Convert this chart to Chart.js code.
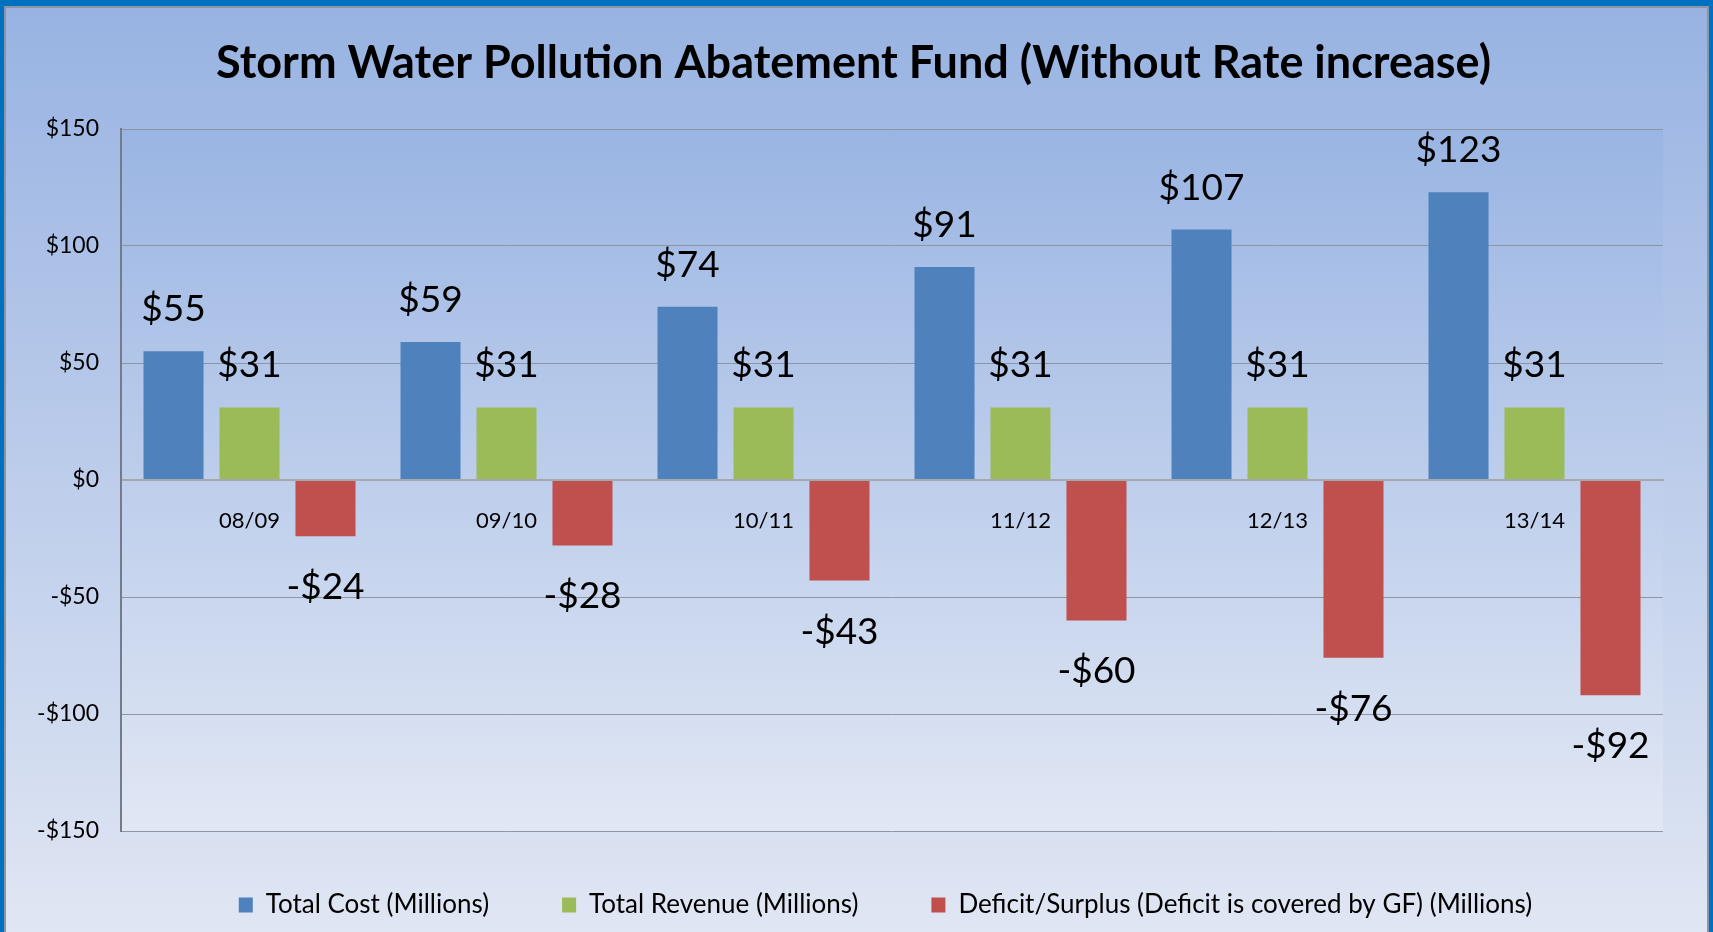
<!DOCTYPE html>
<html>
<head>
<meta charset="utf-8">
<title>Storm Water Pollution Abatement Fund</title>
<script src="https://cdn.jsdelivr.net/npm/chart.js@4.4.1/dist/chart.umd.min.js"></script>
<style>
  body { margin: 0; }
  #frame {
    width: 1713px; height: 932px; box-sizing: border-box;
    border-style: solid; border-color: #0070c0; border-width: 6px 4px 0 4px;
  }
  #inner {
    position: relative; width: 100%; height: 100%; box-sizing: border-box;
    border: 2px solid #8a96a8; border-bottom: none;
  }
</style>
</head>
<body>
<div id="frame"><div id="inner"><canvas id="chart"></canvas></div></div>
<script>
// data
const categories = ['08/09', '09/10', '10/11', '11/12', '12/13', '13/14'];
const totalCost = [55, 59, 74, 91, 107, 123];
const totalRevenue = [31, 31, 31, 31, 31, 31];
const deficitSurplus = [-24, -28, -43, -60, -76, -92];
const seriesNames = [
  'Total Cost (Millions)',
  'Total Revenue (Millions)',
  'Deficit/Surplus (Deficit is covered by GF) (Millions)'
];
const yTicks = [-150, -100, -50, 0, 50, 100, 150];

const money = (v) => (v < 0 ? '-$' : '$') + Math.abs(v);

Chart.defaults.font.family = 'Lato';
Chart.defaults.color = '#000';

// gradient fills behind the chart and the plot area
const backdrop = {
  id: 'backdrop',
  beforeDraw(chart) {
    const { ctx, width, height, chartArea: a } = chart;
    ctx.save();
    let g = ctx.createLinearGradient(0, 0, 0, height);
    g.addColorStop(0, '#98b3e2');
    g.addColorStop(1, '#e0e6f3');
    ctx.fillStyle = g;
    ctx.fillRect(0, 0, width, height);
    g = ctx.createLinearGradient(0, a.top, 0, a.bottom);
    g.addColorStop(0, '#9ab5e3');
    g.addColorStop(1, '#e1e7f4');
    ctx.fillStyle = g;
    ctx.fillRect(a.left, a.top, a.right - a.left, a.bottom - a.top);
    ctx.restore();
  }
};

// title and legend are not quite centred in the original
const boxNudge = {
  id: 'boxNudge',
  afterLayout(chart) {
    const l = chart.legend;
    l.top -= 12; l.bottom -= 12;
    l.left += 51; l.right += 51;
    const t = chart.titleBlock;
    t.left += 19; t.right += 19;
  }
};

// big value labels outside the bar ends
const valueLabels = {
  id: 'valueLabels',
  afterDatasetsDraw(chart) {
    const ctx = chart.ctx;
    ctx.save();
    ctx.font = '37px Lato';
    ctx.fillStyle = '#000';
    ctx.textAlign = 'center';
    ctx.textBaseline = 'middle';
    chart.data.datasets.forEach((ds, i) => {
      chart.getDatasetMeta(i).data.forEach((bar, j) => {
        const v = ds.data[j];
        const y = v < 0 ? bar.y + 51 : bar.y - 42;
        ctx.fillText(money(v), bar.x, y);
      });
    });
    ctx.restore();
  }
};

const myChart = new Chart(document.getElementById('chart'), {
  type: 'bar',
  data: {
    labels: categories,
    datasets: [
      { label: seriesNames[0], data: totalCost, backgroundColor: '#4f81bd' },
      { label: seriesNames[1], data: totalRevenue, backgroundColor: '#9bbb59' },
      { label: seriesNames[2], data: deficitSurplus, backgroundColor: '#c0504d' }
    ]
  },
  options: {
    responsive: true,
    maintainAspectRatio: false,
    animation: false,
    layout: { padding: { left: 0, right: 44, top: 0, bottom: -8 } },
    datasets: {
      bar: { categoryPercentage: 0.887, barPercentage: 0.79, borderWidth: 0 }
    },
    scales: {
      x: {
        position: { y: 0 },
        grid: { display: false, drawTicks: false },
        border: { display: true, color: '#a5a8ad', width: 2 },
        ticks: { font: { size: 22 }, color: '#000', padding: 28 }
      },
      y: {
        min: yTicks[0],
        max: yTicks[yTicks.length - 1],
        afterFit: (s) => { s.width = 115; },
        afterBuildTicks: (s) => { s.ticks = yTicks.map(v => ({ value: v })); },
        grid: {
          drawTicks: false,
          color: (c) => c.tick && c.tick.value === 0 ? '#a5a8ad' : '#8e96a6',
          lineWidth: (c) => c.tick && c.tick.value === 0 ? 2 : 1
        },
        border: { color: '#747c8c', width: 2 },
        ticks: { font: { size: 23 }, color: '#000', padding: 22, callback: (v) => money(v) }
      }
    },
    plugins: {
      title: {
        display: true,
        text: 'Storm Water Pollution Abatement Fund (Without Rate increase)',
        font: { size: 45, weight: 'bold' },
        color: '#000',
        padding: { top: 28, bottom: 39 }
      },
      legend: {
        position: 'bottom',
        labels: { font: { size: 26 }, color: '#000', boxWidth: 14, boxHeight: 15, padding: 73 }
      },
      tooltip: { enabled: false }
    }
  },
  plugins: [backdrop, boxNudge, valueLabels]
});
</script>
</body>
</html>
